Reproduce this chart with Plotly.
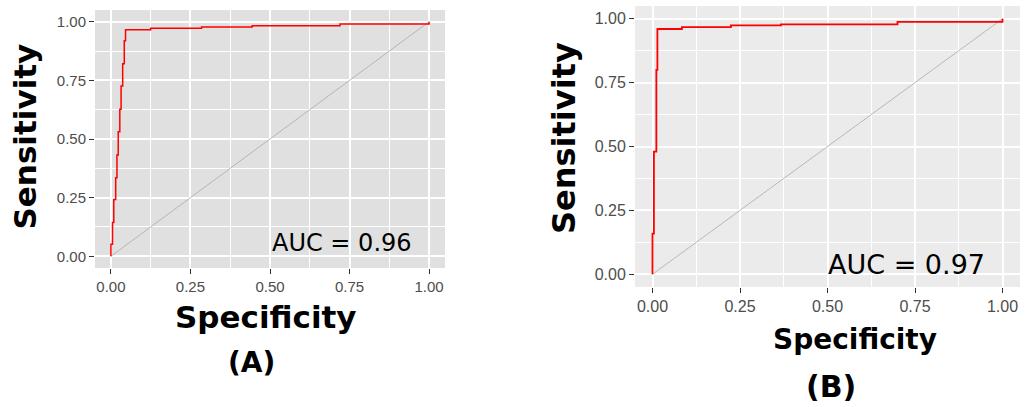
import plotly.graph_objects as go

W, H = 1027, 407

# ROC step corner points (fpr, tpr), drawn with 'vh' steps
roc_a_fpr = [0.0, 0.005, 0.009, 0.015, 0.019, 0.023, 0.028, 0.032, 0.037, 0.042, 0.046, 0.125, 0.285, 0.444, 0.72, 1.0]
roc_a_tpr = [0.0, 0.051, 0.144, 0.242, 0.335, 0.432, 0.531, 0.627, 0.726, 0.821, 0.919, 0.966, 0.972, 0.978, 0.983, 0.990]
roc_b_fpr = [0.0, 0.004, 0.011, 0.014, 0.084, 0.224, 0.367, 0.70, 1.0]
roc_b_tpr = [0.0, 0.159, 0.480, 0.800, 0.960, 0.967, 0.974, 0.978, 0.988]
diag = [0.0, 1.0]
tick_vals = [0.0, 0.25, 0.5, 0.75, 1.0]
tick_text = ["0.00", "0.25", "0.50", "0.75", "1.00"]
auc_labels = ["AUC = 0.96", "AUC = 0.97"]
panel_labels = ["(A)", "(B)"]


def px(x):
    return x / W


def py(y):
    return 1 - y / H


fig = go.Figure()

# panel A
fig.add_trace(go.Scatter(x=diag, y=diag, mode="lines", line=dict(color="#AAAAAA", width=0.8),
                         xaxis="x", yaxis="y", showlegend=False, hoverinfo="skip"))
fig.add_trace(go.Scatter(x=roc_a_fpr + [1.0], y=roc_a_tpr + [1.0], mode="lines",
                         line=dict(color="#FF0000", width=1.5, shape="vh"),
                         xaxis="x", yaxis="y", showlegend=False))
# panel B
fig.add_trace(go.Scatter(x=diag, y=diag, mode="lines", line=dict(color="#AAAAAA", width=0.8),
                         xaxis="x2", yaxis="y2", showlegend=False, hoverinfo="skip"))
fig.add_trace(go.Scatter(x=roc_b_fpr + [1.0], y=roc_b_tpr + [1.0], mode="lines",
                         line=dict(color="#FF0000", width=1.8, shape="vh"),
                         xaxis="x2", yaxis="y2", showlegend=False))


def axis(domain, anchor, size):
    return dict(
        domain=domain, anchor=anchor, range=[-0.05, 1.05],
        tickvals=tick_vals, ticktext=tick_text,
        ticks="outside", ticklen=5, tickwidth=1, tickcolor="#333333",
        tickfont=dict(family="Liberation Sans, Arial", size=size, color="#4D4D4D"),
        showgrid=True, gridcolor="#FFFFFF", gridwidth=1.6,
        minor=dict(dtick=0.125, tick0=0.125, showgrid=True, gridcolor="#FFFFFF", gridwidth=0.8),
        zeroline=False, showline=False, fixedrange=True,
    )


fig.update_layout(
    width=W, height=H,
    margin=dict(l=0, r=0, t=0, b=0),
    paper_bgcolor="white",
    plot_bgcolor="rgba(0,0,0,0)",
    xaxis=axis([px(95), px(445)], "y", 15),
    yaxis=axis([py(268), py(10)], "x", 15),
    xaxis2=axis([px(635), px(1020)], "y2", 16),
    yaxis2=axis([py(287), py(6)], "x2", 16),
    shapes=[
        dict(type="rect", xref="x domain", yref="y domain", x0=0, x1=1, y0=0, y1=1,
             fillcolor="#E0E0E0", line=dict(width=0), layer="below"),
        dict(type="rect", xref="x2 domain", yref="y2 domain", x0=0, x1=1, y0=0, y1=1,
             fillcolor="#EBEBEB", line=dict(width=0), layer="below"),
    ],
)

title_font = "DejaVu Sans"
ann = [
    dict(x=0.50, y=0.055, xref="x", yref="y", text=auc_labels[0], xanchor="left", yanchor="middle",
         font=dict(family="DejaVu Sans", size=24, color="black")),
    dict(x=0.495, y=0.04, xref="x2", yref="y2", text=auc_labels[1], xanchor="left", yanchor="middle",
         font=dict(family="DejaVu Sans", size=27, color="black")),
    dict(x=px(24), y=py(136.5), text="<b>Sensitivity</b>", textangle=-90,
         font=dict(family=title_font, size=31, color="black")),
    dict(x=px(265.5), y=py(317), text="<b>Specificity</b>",
         font=dict(family=title_font, size=31, color="black")),
    dict(x=px(251.5), y=py(362), text="<b>" + panel_labels[0] + "</b>",
         font=dict(family=title_font, size=28, color="black")),
    dict(x=px(564), y=py(138), text="<b>Sensitivity</b>", textangle=-90,
         font=dict(family=title_font, size=32, color="black")),
    dict(x=px(855), y=py(339), text="<b>" + "Specificity" + "</b>",
         font=dict(family=title_font, size=28, color="black")),
    dict(x=px(830.5), y=py(386), text="<b>" + panel_labels[1] + "</b>",
         font=dict(family=title_font, size=30, color="black")),
]
for a in ann:
    a.setdefault("xref", "paper")
    a.setdefault("yref", "paper")
    a.setdefault("xanchor", "center")
    a.setdefault("yanchor", "middle")
    a["showarrow"] = False
fig.update_layout(annotations=ann)

fig.write_html("out.html")
